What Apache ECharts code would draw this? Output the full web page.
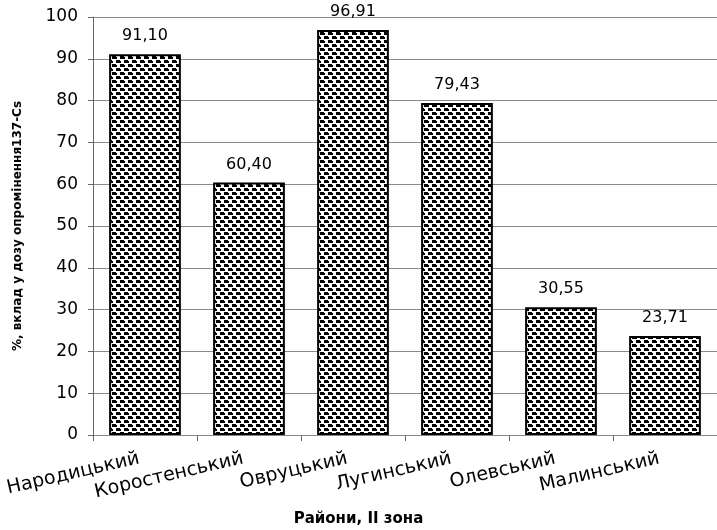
<!DOCTYPE html>
<html>
<head>
<meta charset="utf-8">
<script src="https://cdn.jsdelivr.net/npm/echarts@6/dist/echarts.min.js"></script>
<style>
html,body{margin:0;padding:0;background:#fff;}
#chart{width:717px;height:530px;}
</style>
</head>
<body>
<div id="chart"></div>
<script>
// Districts of zone II and their share of the 137-Cs exposure dose
const districts = ['Народицький', 'Коростенський', 'Овруцький', 'Лугинський', 'Олевський', 'Малинський'];
const shares = [91.10, 60.40, 96.91, 79.43, 30.55, 23.71];
const yTicks = [0, 10, 20, 30, 40, 50, 60, 70, 80, 90, 100];

// Small black-on-white brick tile used as the bar fill
function makeTile() {
  const c = document.createElement('canvas');
  c.width = 8; c.height = 8;
  const g = c.getContext('2d');
  g.fillStyle = '#fff';
  g.fillRect(0, 0, 8, 8);
  g.fillStyle = '#000';
  g.fillRect(0, 0, 4, 3);
  g.fillRect(4, 1, 1, 2);
  g.fillRect(4, 4, 4, 3);
  g.fillRect(0, 5, 1, 2);
  return c;
}
const tile = makeTile();

const fmt = v => v.toFixed(2).replace('.', ',');
const font = '"DejaVu Sans", sans-serif';

const chart = echarts.init(document.getElementById('chart'));
chart.setOption({
  animation: false,
  backgroundColor: '#fff',
  title: {
    text: 'Райони, II зона',
    left: 'center',
    top: 507,
    textStyle: { fontFamily: font, fontWeight: 'bold', fontSize: 15, color: '#000' }
  },
  grid: { left: 93, width: 636, top: 17, height: 418, containLabel: false },
  xAxis: {
    type: 'category',
    data: districts,
    axisLine: { lineStyle: { color: '#888', width: 1 } },
    axisTick: { show: true, length: 6, lineStyle: { color: '#666' } },
    axisLabel: {
      interval: 0,
      rotate: 13,
      margin: 22,
      padding: [0, 6, 0, 0],
      fontFamily: font,
      fontSize: 19,
      color: '#000'
    }
  },
  yAxis: {
    type: 'value',
    min: yTicks[0],
    max: yTicks[yTicks.length - 1],
    interval: 10,
    name: '%, вклад у дозу опромінення137-Cs',
    nameLocation: 'middle',
    nameGap: 69,
    nameTextStyle: { fontFamily: font, fontWeight: 'bold', fontSize: 12, color: '#000' },
    axisLine: { show: true, lineStyle: { color: '#666', width: 1 } },
    axisTick: { show: true, length: 5, lineStyle: { color: '#666' } },
    axisLabel: { margin: 15, fontFamily: font, fontSize: 17, color: '#000' },
    splitLine: { show: true, lineStyle: { color: '#8a8a8a', width: 1 } }
  },
  series: [{
    type: 'bar',
    data: shares,
    barCategoryGap: '31%',
    itemStyle: {
      color: { image: tile, repeat: 'repeat' },
      borderColor: '#000',
      borderWidth: 2
    },
    label: {
      show: true,
      position: 'top',
      distance: 10,
      fontFamily: font,
      fontSize: 16,
      color: '#000',
      formatter: p => fmt(p.value)
    }
  }]
});
</script>
</body>
</html>
